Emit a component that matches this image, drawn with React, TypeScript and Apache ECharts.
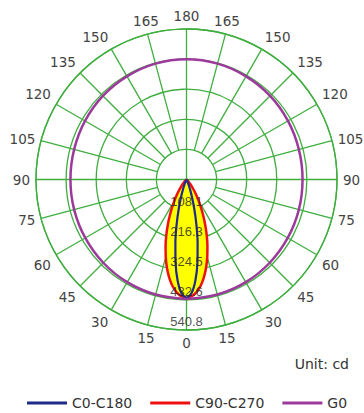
import React, { useEffect, useRef } from "react";
import * as echarts from "echarts";

// Polar grid
const spokeAngles = [0, 15, 30, 45, 60, 75, 90, 105, 120, 135, 150, 165, 180, 195, 210, 225, 240, 255, 270, 285, 300, 315, 330, 345];
const ringValues = [108.16, 216.32, 324.48, 432.64, 540.8];
const ringLabels = ["108.1", "216.3", "324.5", "432.6", "540.8"];
const radiusMax = 540.8;

// Light distribution (cd), angle measured from nadir (0) to zenith (180)
const lobeAngles = [0, 2.5, 5, 7.5, 10, 12.5, 15, 17.5, 20, 22.5, 25, 27.5, 30, 32.5, 35, 37.5, 40, 42.5, 45, 50, 55, 60, 90];
const c90c270 = [425, 420, 407, 386, 358, 325, 288, 250, 212, 175, 141, 111, 85, 63, 46, 32, 22, 14, 9, 3, 1, 0.5, 0];
const c0c180 = [425, 409, 365, 301, 230, 163, 106, 64, 35, 18, 8, 3.5, 1.4, 0.5, 0.2, 0, 0, 0, 0, 0, 0, 0, 0];
const g0Angles = [0, 15, 30, 45, 60, 75, 90, 105, 120, 135, 150, 165, 180];
const g0Values = [429, 428, 426, 423, 420, 418, 417, 418, 421, 425, 428, 431, 432];

const GREEN = "#3fae3f";

function lobe(angles: number[], values: number[]) {
  const pts: number[][] = [];
  for (let i = angles.length - 1; i >= 1; i--) pts.push([values[i], 360 - angles[i]]);
  for (let i = 0; i < angles.length; i++) pts.push([values[i], angles[i]]);
  return pts;
}

function loop(angles: number[], values: number[]) {
  const pts: number[][] = [];
  for (let i = 0; i < angles.length; i++) pts.push([values[i], angles[i]]);
  for (let i = angles.length - 2; i >= 0; i--) pts.push([values[i], 360 - angles[i]]);
  return pts;
}

export default function App() {
  const ref = useRef<HTMLDivElement>(null);
  useEffect(() => {
    if (!ref.current) return;
    const chart = echarts.init(ref.current, undefined, { renderer: "svg" });
    const spokes = spokeAngles.map((a) => ({
      type: "line",
      coordinateSystem: "polar",
      silent: true,
      symbol: "none",
      z: 1,
      lineStyle: { color: GREEN, width: 1.3 },
      data: [
        [a % 90 === 0 ? 0 : ringValues[0], a],
        [radiusMax, a],
      ],
    }));
    chart.setOption({
      animation: false,
      backgroundColor: "#ffffff",
      polar: { center: [186.5, 179.5], radius: 150.5 },
      angleAxis: {
        type: "value",
        min: 0,
        max: 360,
        interval: 15,
        startAngle: 270,
        clockwise: true,
        axisLine: { show: true, lineStyle: { color: GREEN, width: 1.3 } },
        axisTick: { show: false },
        splitLine: { show: false },
        axisLabel: {
          margin: 6,
          color: "#444",
          fontFamily: "DejaVu Sans",
          fontSize: 13.5,
          formatter: (v: number) => String(v > 180 ? 360 - v : v),
        },
      },
      radiusAxis: {
        type: "value",
        min: 0,
        max: radiusMax,
        interval: ringValues[0],
        axisLine: { show: false },
        axisTick: { show: false },
        axisLabel: { show: false },
        splitLine: { show: true, lineStyle: { color: GREEN, width: 1.3 } },
      },
      legend: {
        data: ["C0-C180", "C90-C270", "G0"],
        left: 22,
        top: 391,
        icon: "rect",
        itemWidth: 40,
        itemHeight: 3,
        itemGap: 18,
        textStyle: { fontFamily: "DejaVu Sans", fontSize: 14, color: "#333" },
      },
      graphic: [
        {
          type: "text",
          right: 15,
          top: 357,
          style: { text: "Unit: cd", font: '14px "DejaVu Sans"', fill: "#333" },
        },
      ],
      series: [
        ...spokes,
        {
          name: "C90-C270",
          type: "line",
          coordinateSystem: "polar",
          symbol: "none",
          smooth: 0.3,
          z: 3,
          data: lobe(lobeAngles, c90c270),
          lineStyle: { color: "#ee1111", width: 2.5 },
          itemStyle: { color: "#ee1111" },
          areaStyle: { color: "#ffff00", opacity: 1 },
        },
        {
          name: "C0-C180",
          type: "line",
          coordinateSystem: "polar",
          symbol: "none",
          smooth: 0.3,
          z: 4,
          data: lobe(lobeAngles, c0c180),
          lineStyle: { color: "#1f2a8a", width: 2.2 },
          itemStyle: { color: "#1f2a8a" },
        },
        {
          name: "G0",
          type: "line",
          coordinateSystem: "polar",
          symbol: "none",
          smooth: 0.4,
          z: 5,
          data: loop(g0Angles, g0Values),
          lineStyle: { color: "#9b3a9b", width: 2.5 },
          itemStyle: { color: "#9b3a9b" },
        },
        {
          type: "scatter",
          coordinateSystem: "polar",
          symbolSize: 0,
          silent: true,
          z: 6,
          itemStyle: { color: "#222" },
          data: ringValues.map((r) => [r, 0]),
          label: {
            show: true,
            position: "top",
            distance: 2,
            color: "#222",
            fontFamily: "Liberation Sans",
            fontSize: 13,
            formatter: (p: any) => ringLabels[p.dataIndex],
          },
        },
      ],
    });
    return () => chart.dispose();
  }, []);
  return (
    <div
      ref={ref}
      style={{ position: "fixed", left: 0, top: 0, width: 364, height: 413, background: "#fff" }}
    />
  );
}
